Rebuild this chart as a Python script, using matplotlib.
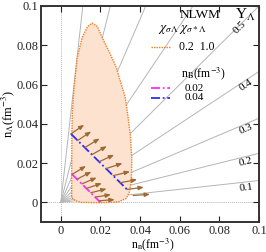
import numpy as np
import matplotlib
matplotlib.use("Agg")
import matplotlib.pyplot as plt

plt.rcParams['font.family'] = ['Liberation Serif', 'DejaVu Serif']
plt.rcParams['mathtext.fontset'] = 'stix'

# fan of constant Y_Lambda lines
yl_fan = [0.1, 0.2, 0.3, 0.4, 0.5, 0.6, 0.7, 0.8, 0.9]
yl_labels = [0.1, 0.2, 0.3, 0.4, 0.5]

# spinodal region boundary (n_n, n_Lambda)
reg_nn = [0.0055, 0.0055, 0.0056, 0.0058, 0.0067, 0.0083, 0.0108, 0.0135, 0.0158,
          0.0185, 0.0208, 0.0245, 0.0280, 0.0325, 0.0340, 0.0352, 0.0358, 0.0356,
          0.0345, 0.0330, 0.0290, 0.0200, 0.0100, 0.0075, 0.0060]
reg_nl = [0.0030, 0.0200, 0.0350, 0.0456, 0.0585, 0.0738, 0.0840, 0.0895, 0.0913,
          0.0895, 0.0840, 0.0765, 0.0687, 0.0533, 0.0430, 0.0330, 0.0220, 0.0110,
          0.0050, 0.0020, 0.0002, -0.0002, 0.0000, 0.0008, 0.0020]

# constant n_B lines inside region (n_Lambda range)
nb_vals = [0.02, 0.04]
nb_nl_top = [0.0145, 0.0349]
nb_nl_bot = [0.0, 0.0065]
nb_colors = ['#ff2bff', '#2b2bff']
nb_labels = ['0.02', '0.04']

# instability direction arrows, tails on the n_B lines
arr_nl_04 = [0.0349, 0.0315, 0.0279, 0.0243, 0.0207, 0.0172, 0.0136, 0.0100, 0.0066, 0.0035]
arr_dx_04 = [0.0067, 0.0068, 0.0075, 0.0075, 0.0076, 0.0083, 0.0085, 0.0085, 0.0085, 0.0085]
arr_dy_04 = [0.0046, 0.0046, 0.0046, 0.0043, 0.0035, 0.0027, 0.0021, 0.0016, 0.0011, 0.0006]
arr_nl_02 = [0.0143, 0.0118, 0.0094, 0.0071, 0.0049, 0.0027, 0.0008]
arr_dx_02 = [0.0070, 0.0072, 0.0075, 0.0078, 0.0080, 0.0080, 0.0080]
arr_dy_02 = [0.0042, 0.0038, 0.0032, 0.0026, 0.0020, 0.0012, 0.0006]

ticks = [0, 0.02, 0.04, 0.06, 0.08, 0.1]
tick_labels = ['0', '0.02', '0.04', '0.06', '0.08', '0.1']

fig = plt.figure(figsize=(2.66, 2.52), dpi=100)
ax = fig.add_axes([41/266, 30/252, 218/266, 216/252])
ax.set_xlim(-0.01, 0.1)
ax.set_ylim(-0.01, 0.1)

gray = '#b5b5b5'
ax.axhline(0, color=gray, lw=0.7, ls=(0, (1, 1)), zorder=1)
ax.axvline(0, color=gray, lw=0.7, ls=(0, (1, 1)), zorder=1)
xs = np.array([0, 0.2])
for Y in yl_fan:
    ax.plot(xs, Y/(1-Y)*xs, color=gray, lw=0.7, zorder=1)

# fan labels
for Y in yl_labels:
    s = Y/(1-Y)
    xl = 0.0935 if Y < 0.5 else 0.0905
    ang = np.degrees(np.arctan(s))
    ax.text(xl, s*xl - 0.0028 + (0.0015 if Y == 0.5 else 0), '%.1f' % Y,
            rotation=ang, ha='center', va='center', fontsize=8, zorder=3)

ax.fill(reg_nn, reg_nl, facecolor='#fde2cf', edgecolor='none', zorder=2)
ax.plot(reg_nn + reg_nn[:1], reg_nl + reg_nl[:1], color='#f27c22',
        lw=1.0, ls=(0, (1, 0.8)), zorder=4)

for nb, top, bot, c in zip(nb_vals, nb_nl_top, nb_nl_bot, nb_colors):
    nl = np.array([top, bot])
    ax.plot(nb - nl, nl, color=c, lw=1.3, ls=(0, (5, 1.5, 1, 1.5)), zorder=5)

brown = '#9c6a36'
for nb, nls, dxs, dys in [(0.04, arr_nl_04, arr_dx_04, arr_dy_04),
                          (0.02, arr_nl_02, arr_dx_02, arr_dy_02)]:
    for nl, dx, dy in zip(nls, dxs, dys):
        x0 = nb - nl
        ax.annotate('', xy=(x0 + dx, nl + dy), xytext=(x0, nl),
                    arrowprops=dict(arrowstyle='-|>,head_length=0.3,head_width=0.12',
                                    color=brown, lw=0.9, shrinkA=0, shrinkB=0),
                    zorder=6)

ax.set_xticks(ticks)
ax.set_xticklabels(tick_labels)
ax.set_yticks(ticks)
ax.set_yticklabels(tick_labels)
ax.tick_params(direction='in', top=True, right=True, length=4, width=0.8,
               labelsize=9, colors='#222222', pad=2)
for sp in ax.spines.values():
    sp.set_linewidth(1.4)
    sp.set_color('#333333')

ax.set_xlabel(r'n$_{\rm n}$(fm$^{-3}$)', fontsize=8.5, va='center')
ax.set_ylabel(r'n$_\Lambda$(fm$^{-3}$)', fontsize=9, va='center')
ax.xaxis.set_label_coords(0.514, -0.103)
ax.yaxis.set_label_coords(-0.15, 0.5)

# legend-like annotations
ax.text(0.729, 0.959, 'NLWM', transform=ax.transAxes, ha='center', va='center', fontsize=9.5)
ax.text(0.935, 0.959, r'Y$_\Lambda$', transform=ax.transAxes, ha='center', va='center', fontsize=11)
ax.text(0.647, 0.89, r'$\chi_{\sigma\Lambda}\ \chi_{\sigma*\Lambda}$', transform=ax.transAxes,
        ha='center', va='center', fontsize=9.5)
ax.plot([0.505, 0.592], [0.812, 0.812], transform=ax.transAxes, color='#f27c22',
        lw=1.0, ls=(0, (1, 0.8)))
ax.text(0.716, 0.812, '0.2  1.0', transform=ax.transAxes, ha='center', va='center', fontsize=8.5)
ax.text(0.743, 0.685, r'n$_{\rm B}$(fm$^{-3}$)', transform=ax.transAxes, ha='center',
        va='center', fontsize=8.5)
for yy, c, lab in zip([0.62, 0.575], nb_colors, nb_labels):
    ax.plot([0.505, 0.592], [yy, yy], transform=ax.transAxes, color=c, lw=1.3,
            ls=(0, (5, 1.5, 1, 1.5)))
    ax.text(0.705, yy, lab, transform=ax.transAxes, ha='center', va='center', fontsize=8)

fig.savefig('out.png', dpi=100)
